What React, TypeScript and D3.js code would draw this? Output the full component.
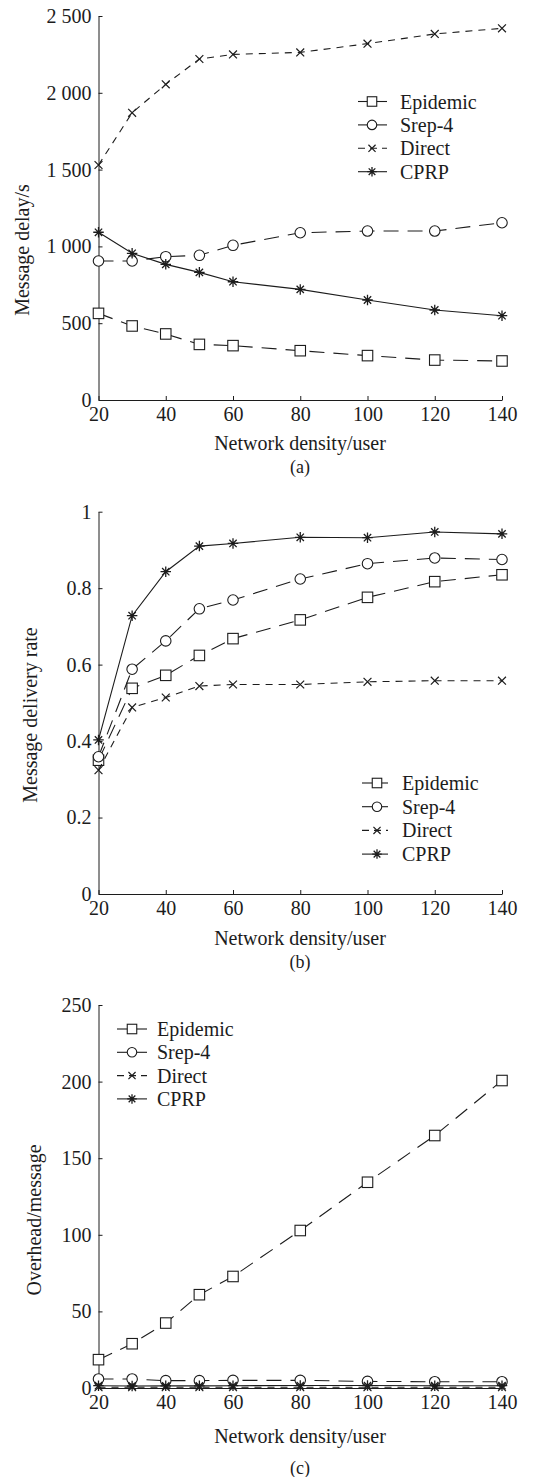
import React, { useEffect, useRef } from "react";
import * as d3 from "d3";

// x values (network density / user)
const density = [20, 30, 40, 50, 60, 80, 100, 120, 140];
const xTicks = [20, 40, 60, 80, 100, 120, 140];
const seriesNames = ["Epidemic", "Srep-4", "Direct", "CPRP"];

// (a) message delay / s
const delayEpidemic = [564, 482, 430, 362, 354, 321, 289, 260, 254];
const delaySrep = [905, 905, 933, 942, 1007, 1089, 1100, 1100, 1154];
const delayDirect = [1530, 1870, 2055, 2220, 2250, 2263, 2320, 2383, 2420];
const delayCprp = [1092, 955, 883, 831, 770, 720, 651, 586, 549];
const delayTicks = [0, 500, 1000, 1500, 2000, 2500];
const delayTickLabels = ["0", "500", "1 000", "1 500", "2 000", "2 500"];

// (b) message delivery rate
const rateEpidemic = [0.35, 0.538, 0.572, 0.624, 0.668, 0.717, 0.776, 0.817, 0.835];
const rateSrep = [0.359, 0.588, 0.662, 0.746, 0.769, 0.824, 0.864, 0.879, 0.875];
const rateDirect = [0.324, 0.488, 0.514, 0.544, 0.548, 0.548, 0.555, 0.558, 0.558];
const rateCprp = [0.403, 0.728, 0.843, 0.91, 0.917, 0.933, 0.932, 0.947, 0.942];
const rateTicks = [0, 0.2, 0.4, 0.6, 0.8, 1];
const rateTickLabels = ["0", "0.2", "0.4", "0.6", "0.8", "1"];

// (c) overhead / message
const overEpidemic = [18.5, 28.9, 42.4, 60.9, 72.8, 102.8, 134.3, 164.8, 200.7];
const overSrep = [5.9, 5.9, 4.8, 4.8, 5, 5, 4.3, 4.1, 4.1];
const overDirect = [0.5, 0.5, 0.5, 0.5, 0.5, 0.5, 0.5, 0.5, 0.5];
const overCprp = [1.5, 1.3, 1.4, 1.4, 1.5, 1.6, 1.6, 1.5, 1.5];
const overTicks = [0, 50, 100, 150, 200, 250];
const overTickLabels = ["0", "50", "100", "150", "200", "250"];

const INK = "#1c1c1c";
const FONT = "'Liberation Serif', 'Times New Roman', serif";
const markers = ["square", "circle", "cross", "star"];
const plotDash = ["15,9", "15,9", "7,6", null];
const legendDash = [null, null, "7,5", null];

const panels = [
  {
    series: [delayEpidemic, delaySrep, delayDirect, delayCprp],
    ticks: delayTicks, tickLabels: delayTickLabels, ymax: 2500,
    yTop: 16, yBottom: 400, ylabel: "Message delay/s", ylabelX: 29, ylabelY: 250,
    xlabelY: 450, caption: "(a)", captionY: 473,
    legend: { x0: 358, x1: 387, mx: 372, tx: 400, y: 101.5, dy: 23.4 },
  },
  {
    series: [rateEpidemic, rateSrep, rateDirect, rateCprp],
    ticks: rateTicks, tickLabels: rateTickLabels, ymax: 1,
    yTop: 511.7, yBottom: 894, ylabel: "Message delivery rate", ylabelX: 37, ylabelY: 715,
    xlabelY: 945, caption: "(b)", captionY: 968,
    legend: { x0: 362, x1: 388, mx: 377, tx: 402, y: 783, dy: 23.7 },
  },
  {
    series: [overEpidemic, overSrep, overDirect, overCprp],
    ticks: overTicks, tickLabels: overTickLabels, ymax: 250,
    yTop: 1005, yBottom: 1388, ylabel: "Overhead/message", ylabelX: 41, ylabelY: 1220,
    xlabelY: 1443, caption: "(c)", captionY: 1474,
    legend: { x0: 117, x1: 147, mx: 132, tx: 157, y: 1029, dy: 23.3 },
  },
];

function drawMarker(g: any, type: string, x: number, y: number, s: number) {
  const h = s / 2;
  if (type === "square") {
    g.append("rect").attr("x", x - h).attr("y", y - h).attr("width", s).attr("height", s)
      .attr("fill", "white").attr("stroke", INK).attr("stroke-width", 1.1);
  } else if (type === "circle") {
    g.append("circle").attr("cx", x).attr("cy", y).attr("r", h)
      .attr("fill", "white").attr("stroke", INK).attr("stroke-width", 1.1);
  } else if (type === "cross") {
    const c = h * 0.75;
    g.append("path").attr("d", `M${x - c},${y - c}L${x + c},${y + c}M${x - c},${y + c}L${x + c},${y - c}`)
      .attr("stroke", INK).attr("stroke-width", 1.2);
  } else {
    const c = h * 1.0;
    const d = c * 0.7;
    g.append("path")
      .attr("d", `M${x},${y - c}L${x},${y + c}M${x - c},${y}L${x + c},${y}M${x - d},${y - d}L${x + d},${y + d}M${x - d},${y + d}L${x + d},${y - d}`)
      .attr("stroke", INK).attr("stroke-width", 1.3);
  }
}

export default function App() {
  const ref = useRef<SVGSVGElement>(null);

  useEffect(() => {
    const svg = d3.select(ref.current);
    svg.selectAll("*").remove();

    const x = d3.scaleLinear().domain([20, 140]).range([98.5, 502]);

    panels.forEach((p) => {
      const y = d3.scaleLinear().domain([0, p.ymax]).range([p.yBottom, p.yTop]);
      const g = svg.append("g");

      // axes
      const xAxis = d3.axisBottom(x).tickValues(xTicks).tickSizeInner(-4).tickSizeOuter(0).tickPadding(7);
      const gx = g.append("g").attr("transform", `translate(0,${p.yBottom})`).call(xAxis);
      const yAxis = d3.axisLeft(y).tickValues(p.ticks).tickFormat((d: any, i: number) => p.tickLabels[i])
        .tickSizeInner(-4).tickSizeOuter(0).tickPadding(7);
      const gy = g.append("g").attr("transform", `translate(${x(20)},0)`).call(yAxis);
      [gx, gy].forEach((a) => {
        a.selectAll("path,line").attr("stroke", INK).attr("stroke-width", 1);
        a.selectAll("text").attr("fill", INK).style("font-family", FONT).style("font-size", "20px");
      });

      // series
      p.series.forEach((vals, si) => {
        const line = d3.line<number>().x((d, i) => x(density[i])).y((d) => y(d));
        const path = g.append("path").attr("d", line(vals)).attr("fill", "none")
          .attr("stroke", INK).attr("stroke-width", 1.1);
        if (plotDash[si]) path.attr("stroke-dasharray", plotDash[si]);
        vals.forEach((v, i) => drawMarker(g, markers[si], x(density[i]), y(v), 10.5));
      });

      // legend
      const L = p.legend;
      seriesNames.forEach((name, si) => {
        const ly = L.y + si * L.dy;
        const ln = g.append("line").attr("x1", L.x0).attr("x2", L.x1).attr("y1", ly).attr("y2", ly)
          .attr("stroke", INK).attr("stroke-width", 1.1);
        if (legendDash[si]) ln.attr("stroke-dasharray", legendDash[si]);
        drawMarker(g, markers[si], L.mx, ly, 9.5);
        g.append("text").attr("x", L.tx).attr("y", ly).attr("dy", "0.35em").text(name)
          .attr("fill", INK).style("font-family", FONT).style("font-size", "20px");
      });

      // labels
      g.append("text").attr("x", 300).attr("y", p.xlabelY).attr("text-anchor", "middle")
        .text("Network density/user").attr("fill", INK).style("font-family", FONT).style("font-size", "20px");
      g.append("text").attr("transform", `translate(${p.ylabelX},${p.ylabelY}) rotate(-90)`)
        .attr("text-anchor", "middle").text(p.ylabel)
        .attr("fill", INK).style("font-family", FONT).style("font-size", "20px");
      g.append("text").attr("x", 300).attr("y", p.captionY).attr("text-anchor", "middle")
        .text(p.caption).attr("fill", INK).style("font-family", FONT).style("font-size", "18px");
    });
  });

  return (
    <svg ref={ref} width={547} height={1477}
      style={{ position: "absolute", left: 0, top: 0, background: "white" }} />
  );
}
